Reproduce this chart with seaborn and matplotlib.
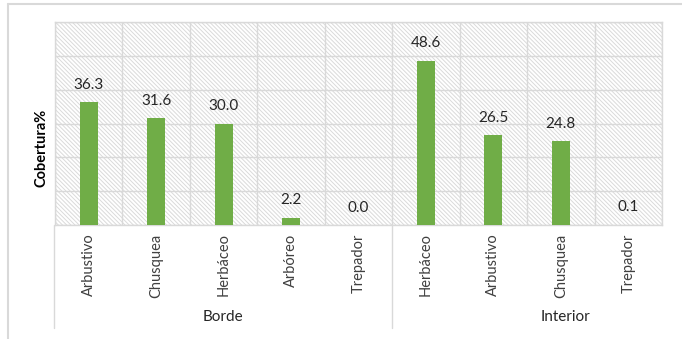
import matplotlib
matplotlib.use("Agg")
import matplotlib.pyplot as plt
import seaborn as sns
import pandas as pd
import numpy as np
from matplotlib.patches import Rectangle
from matplotlib.lines import Line2D

# ---- data ----
groups = ["Borde"] * 5 + ["Interior"] * 4
categories = ["Arbustivo", "Chusquea", "Herbáceo", "Arbóreo", "Trepador",
              "Herbáceo", "Arbustivo", "Chusquea", "Trepador"]
values = [36.3, 31.6, 30.0, 2.2, 0.0, 48.6, 26.5, 24.8, 0.1]
group_names = ["Borde", "Interior"]
y_label = "Cobertura%"

sns.set_theme(style="white")
plt.rcParams['font.family'] = ['Lato', 'DejaVu Sans']
plt.rcParams['hatch.linewidth'] = 0.7

df = pd.DataFrame({
    "key": [f"{g}|{c}" for g, c in zip(groups, categories)],
    "cat": categories,
    "val": values,
})

W, H = 682, 339
fig = plt.figure(figsize=(W / 100, H / 100), dpi=100)
fig.patch.set_facecolor("white")
ax = fig.add_axes([55 / W, 1 - 225 / H, (662 - 55) / W, (225 - 22) / H])

# hatched background
ax.patch.set_facecolor("white")
ax.add_patch(Rectangle((0, 0), 1, 1, transform=ax.transAxes, facecolor="white",
                       edgecolor="#dadada", hatch="\\" * 8, linewidth=0, zorder=0))

sns.barplot(data=df, x="key", y="val", color="#70AD47", saturation=1,
            width=0.27, ax=ax, zorder=3, errorbar=None, linewidth=0)

ax.set_ylim(0, 60)
ax.set_xlim(-0.5, len(values) - 0.5)
ax.set_yticks(np.arange(0, 61, 10))
ax.set_yticklabels([])
ax.set_xticks(np.arange(-0.5, len(values), 1), minor=True)
ax.set_axisbelow(True)
ax.grid(which="major", axis="y", color="#d9d9d9", lw=1, zorder=1)
ax.grid(which="minor", axis="x", color="#d9d9d9", lw=1, zorder=1)
ax.grid(which="major", axis="x", visible=False)
for s in ax.spines.values():
    s.set_color("#d9d9d9")
    s.set_linewidth(1)
ax.set_xticks(range(len(values)))
ax.set_xticklabels(categories, rotation=90, fontsize=10.5, color="#404040")
ax.tick_params(axis="x", which="both", length=0, pad=6)
ax.tick_params(axis="y", which="both", length=0)
ax.set_xlabel("")
ax.set_ylabel("")

for i, v in enumerate(values):
    ax.annotate(f"{v:.1f}", (i, v), xytext=(0, 12.6), textcoords="offset points",
                ha="center", va="center", fontsize=11, color="#262626", zorder=4)

# y label
fig.text(42 / W, 1 - 148 / H, y_label, rotation=90, ha="center", va="center",
         fontsize=10.5, fontweight="bold", color="#000000")

# group separators and labels
for xp in (54, 392):
    fig.add_artist(Line2D([xp / W, xp / W], [1 - 225 / H, 1 - 328 / H],
                          color="#d9d9d9", lw=1))
fig.text(223 / W, 1 - 317 / H, group_names[0], ha="center", va="center",
         fontsize=11, color="#262626")
fig.text(565 / W, 1 - 317 / H, group_names[1], ha="center", va="center",
         fontsize=11, color="#262626")

# outer chart frame (left and top)
fig.add_artist(Line2D([8 / W, 8 / W], [1 - 4 / H, 0], color="#d9d9d9", lw=1.5))
fig.add_artist(Line2D([8 / W, 1], [1 - 4 / H, 1 - 4 / H], color="#d9d9d9", lw=1.5))

fig.savefig("out.png", dpi=100)
